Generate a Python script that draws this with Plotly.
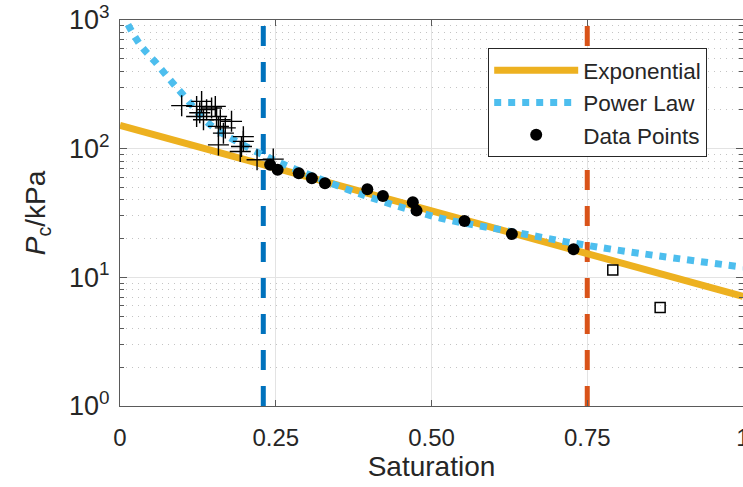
import plotly.graph_objects as go

# ---- data ----
exp_s = [0.0, 1.0]
exp_p = [152, 7.1]

pow_s = [0.002, 0.032, 0.056, 0.080, 0.101, 0.145, 0.204, 0.246, 0.276, 0.39, 0.514, 0.615, 0.766, 1.0]
pow_p = [1150, 646, 475, 344, 263, 153, 103, 82, 71, 43.7, 28.9, 23.3, 17.2, 12.0]

dot_s = [0.241, 0.253, 0.287, 0.308, 0.329, 0.397, 0.422, 0.470, 0.476, 0.553, 0.629, 0.728]
dot_p = [74.9, 68.5, 64.5, 59.0, 53.9, 48.4, 42.9, 38.4, 33.0, 27.4, 21.7, 16.5]

plus_s = [0.099, 0.123, 0.131, 0.128, 0.139, 0.147, 0.153, 0.123, 0.134, 0.155, 0.161, 0.179,
          0.158, 0.169, 0.166, 0.158, 0.198, 0.198, 0.195, 0.193, 0.220, 0.246]
plus_p = [216, 213, 233, 190, 201, 207, 213, 178, 168, 178, 168, 163,
          149, 145, 132, 107, 124, 114, 104, 95, 82, 83]

sq_s = [0.791, 0.867]
sq_p = [11.4, 5.82]

low_threshold = 0.23
high_threshold = 0.75
y_limits = [1, 1000]

x_tickvals = [0, 0.25, 0.5, 0.75, 1]
x_ticktext = ['0', '0.25', '0.50', '0.75', '1']
y_tickvals = [1, 10, 100, 1000]
y_ticktext = ['10<sup>0</sup>', '10<sup>1</sup>', '10<sup>2</sup>', '10<sup>3</sup>']

FONT = 'Liberation Sans, Arial, Helvetica, sans-serif'
TXT = '#262626'
AX = '#5a5a5a'

fig = go.Figure()

fig.add_trace(go.Scatter(x=[low_threshold, low_threshold], y=y_limits, mode='lines',
                         line=dict(color='#0072BD', width=5, dash='20px,16px'),
                         showlegend=False, hoverinfo='skip'))
fig.add_trace(go.Scatter(x=[high_threshold, high_threshold], y=y_limits, mode='lines',
                         line=dict(color='#D95319', width=5, dash='20px,16px'),
                         showlegend=False, hoverinfo='skip'))

fig.add_trace(go.Scatter(x=exp_s, y=exp_p, mode='lines', name='Exponential',
                         line=dict(color='#EDB120', width=7)))
fig.add_trace(go.Scatter(x=pow_s, y=pow_p, mode='lines', name='Power Law',
                         line=dict(color='#4DBEEE', width=7, dash='7px,7px', shape='spline')))
fig.add_trace(go.Scatter(x=plus_s, y=plus_p, mode='markers', showlegend=False,
                         marker=dict(symbol='cross-thin-open', size=15, color='black',
                                     line=dict(color='black', width=1.4))))
fig.add_trace(go.Scatter(x=sq_s, y=sq_p, mode='markers', showlegend=False,
                         marker=dict(symbol='square-open', size=10, color='black',
                                     line=dict(color='black', width=1.5))))
fig.add_trace(go.Scatter(x=dot_s, y=dot_p, mode='markers', name='Data Points',
                         marker=dict(symbol='circle', size=12, color='black')))

minor_vals = [m * 10 ** e for e in range(0, 3) for m in range(2, 10)]

fig.update_layout(
    width=743, height=487,
    margin=dict(l=120, r=0, t=20, b=81),
    paper_bgcolor='white', plot_bgcolor='white',
    font=dict(family=FONT, color=TXT, size=24),
    showlegend=True,
    legend=dict(x=0.591, y=0.927, xanchor='left', yanchor='top',
                bgcolor='white', bordercolor=TXT, borderwidth=1,
                font=dict(size=22.5, color=TXT, family=FONT),
                itemwidth=84, tracegroupgap=0),
    xaxis=dict(range=[0, 1], tickmode='array', tickvals=x_tickvals, ticktext=x_ticktext,
               automargin=False, ticklabeloverflow='allow',
               showgrid=True, gridcolor='#e3e3e3', gridwidth=1,
               showline=True, linecolor=AX, linewidth=1.2, mirror='ticks',
               ticks='inside', ticklen=6, tickcolor=AX, zeroline=False,
               tickfont=dict(size=24, color=TXT), ticklabelstandoff=10,
               title=dict(text='Saturation', font=dict(size=28, color=TXT), standoff=6)),
    yaxis=dict(type='log', range=[0, 3], tickmode='array', tickvals=y_tickvals, ticktext=y_ticktext,
               automargin=False, ticklabeloverflow='allow',
               showgrid=True, gridcolor='#e3e3e3', gridwidth=1,
               showline=True, linecolor=AX, linewidth=1.2, mirror='ticks',
               ticks='inside', ticklen=7, tickcolor=AX, zeroline=False,
               tickfont=dict(size=27, color=TXT), ticklabelstandoff=4,
               minor=dict(tickmode='array', tickvals=minor_vals, ticks='inside', ticklen=4,
                          tickcolor=AX, showgrid=True, gridcolor='#c4c4c4', griddash='1px,5px'),
               title=dict(text='<i>P</i><sub>c</sub>/kPa', font=dict(size=28, color=TXT), standoff=15)),
)

fig.write_html('out.html', config={'displayModeBar': False},
               post_script="document.body.style.margin='0';")
